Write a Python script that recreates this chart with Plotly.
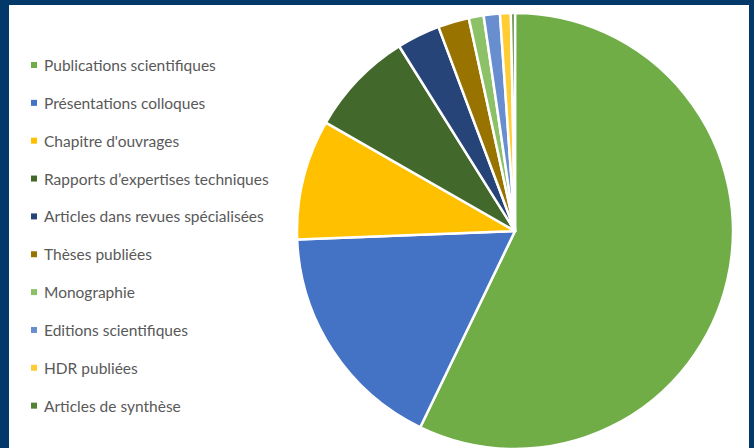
import plotly.graph_objects as go

labels = [
    "Publications scientifiques",
    "Présentations colloques",
    "Chapitre d'ouvrages",
    "Rapports d’expertises techniques",
    "Articles dans revues spécialisées",
    "Thèses publiées",
    "Monographie",
    "Editions scientifiques",
    "HDR publiées",
    "Articles de synthèse",
]
values = [57.1, 17.2, 8.9, 7.8, 3.2, 2.3, 1.1, 1.2, 0.8, 0.3]
colors = ["#70AD47", "#4472C4", "#FFC000", "#43682B", "#264478",
          "#997300", "#8CC168", "#698ED0", "#FFCD33", "#548235"]

W, H = 754, 450

def px(x):
    return x / W

def py(y):
    return 1 - y / H

fig = go.Figure()
fig.add_trace(go.Pie(
    labels=labels,
    values=values,
    sort=False,
    direction="clockwise",
    rotation=0,
    textinfo="none",
    marker=dict(colors=colors, line=dict(color="white", width=2.5)),
    showlegend=False,
    domain=dict(x=[px(297), px(733)], y=[py(449), py(13)]),
))

shapes = [
    dict(type="rect", xref="paper", yref="paper", x0=px(9), x1=px(749),
         y0=0, y1=py(5), fillcolor="white", line=dict(width=0), layer="below"),
]
annotations = []
y0, step = 65, 37.85
for i, (lab, col) in enumerate(zip(labels, colors)):
    yc = y0 + i * step
    shapes.append(dict(type="rect", xref="paper", yref="paper",
                       x0=px(31), x1=px(37), y0=py(yc + 3), y1=py(yc - 3),
                       fillcolor=col, line=dict(width=0)))
    annotations.append(dict(xref="paper", yref="paper", x=px(42), y=py(yc),
                            text=lab, showarrow=False, xanchor="left",
                            yanchor="middle",
                            font=dict(family="Lato", size=15.5, color="#595959")))

fig.update_layout(
    width=W, height=H,
    margin=dict(l=0, r=0, t=0, b=0),
    paper_bgcolor="#03396A",
    plot_bgcolor="white",
    shapes=shapes,
    annotations=annotations,
)
fig.write_html("out.html")
